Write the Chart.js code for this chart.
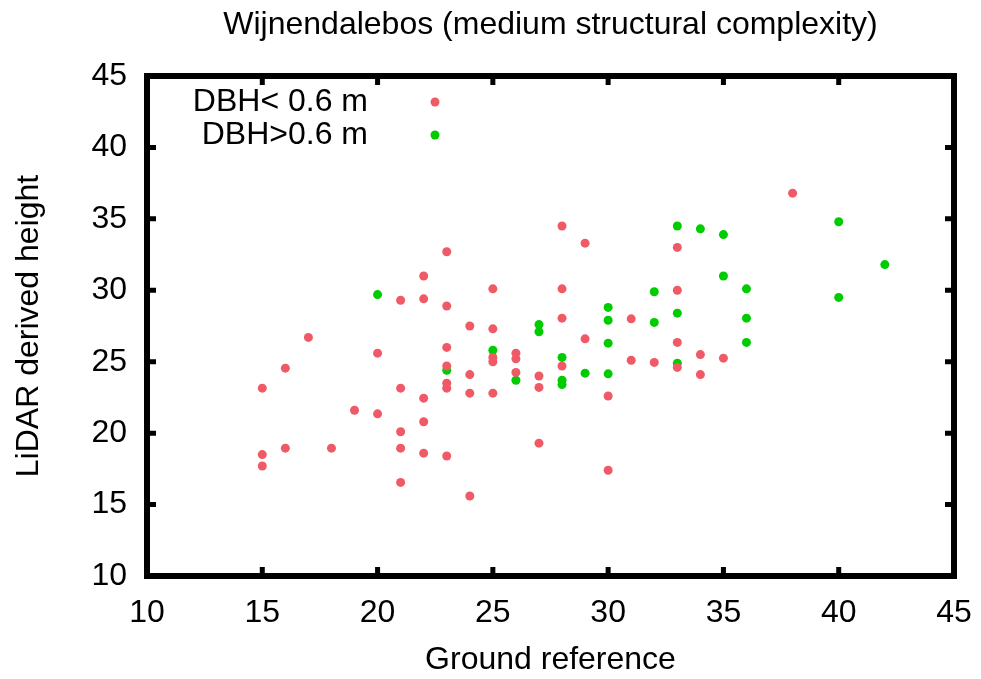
<!DOCTYPE html>
<html>
<head>
<meta charset="utf-8">
<title>Wijnendalebos</title>
<script src="https://cdn.jsdelivr.net/npm/chart.js@4.4.0/dist/chart.umd.min.js"></script>
<style>
  html, body { margin: 0; padding: 0; background: #fff; }
  canvas { display: block; }
</style>
</head>
<body>
<canvas id="chart" width="981" height="679"></canvas>
<script>
const chartTitle = "Wijnendalebos (medium structural complexity)";
const xTitle = "Ground reference";
const yTitle = "LiDAR derived height";
const seriesNames = ["DBH< 0.6 m", "DBH>0.6 m"];
const seriesColors = ["#ef5a66", "#00cc00"];
const xTicks = [10, 15, 20, 25, 30, 35, 40, 45];
const yTicks = [10, 15, 20, 25, 30, 35, 40, 45];

// DBH < 0.6 m : ground reference vs LiDAR height
const smallX = [15, 15, 15, 16, 16, 17, 18, 19, 20, 20,
  21, 21, 21, 21, 21, 22, 22, 22, 22, 22,
  23, 23, 23, 23, 23, 23, 23, 24, 24, 24, 24,
  25, 25, 25, 25, 25, 26, 26, 26, 27, 27, 27,
  28, 28, 28, 28, 29, 29, 30, 30, 31, 31, 32,
  33, 33, 33, 33, 34, 34, 35, 38];
const smallY = [23.15, 18.5, 17.7, 24.55, 18.95, 26.7, 18.95, 21.6, 25.6, 21.35,
  29.3, 23.15, 20.1, 18.95, 16.55, 31.0, 29.4, 22.45, 20.8, 18.6,
  32.7, 28.9, 26.0, 24.7, 23.5, 23.15, 18.4, 27.5, 24.1, 22.8, 15.6,
  30.1, 27.3, 25.3, 25.0, 22.8, 25.6, 25.2, 24.25, 24.0, 23.2, 19.3,
  34.5, 30.1, 28.05, 24.7, 33.3, 26.6, 22.6, 17.4, 28.0, 25.1, 24.95,
  33.0, 30.0, 26.35, 24.6, 25.5, 24.1, 25.25, 36.8];

// DBH > 0.6 m
const largeX = [20, 23, 25, 26, 27, 27, 28, 28, 28, 29,
  30, 30, 30, 30, 32, 32, 33, 33, 33, 34,
  35, 35, 36, 36, 36, 40, 40, 42];
const largeY = [29.7, 24.4, 25.8, 23.7, 27.6, 27.1, 25.3, 23.7, 23.4, 24.2,
  28.8, 27.9, 26.3, 24.15, 29.9, 27.75, 34.5, 28.4, 24.9, 34.3,
  33.9, 31.0, 30.1, 28.05, 26.35, 34.8, 29.5, 31.8];

const FONT = "'Liberation Sans', Arial, Helvetica, sans-serif";

const toPoints = (xs, ys) => xs.map((x, i) => ({ x: x, y: ys[i] }));

// frame, inward ticks, title and the gnuplot style key
const gnuplotDecor = {
  id: "gnuplotDecor",
  afterDatasetsDraw(chart) {
    const { ctx, chartArea: a, scales } = chart;
    ctx.save();
    ctx.strokeStyle = "#000";
    ctx.lineWidth = 6;
    ctx.strokeRect(a.left, a.top, a.right - a.left, a.bottom - a.top);

    ctx.lineWidth = 5;
    ctx.beginPath();
    xTicks.forEach(v => {
      const px = scales.x.getPixelForValue(v);
      ctx.moveTo(px, a.bottom); ctx.lineTo(px, a.bottom - 9);
      ctx.moveTo(px, a.top); ctx.lineTo(px, a.top + 9);
    });
    yTicks.forEach(v => {
      const py = scales.y.getPixelForValue(v);
      ctx.moveTo(a.left, py); ctx.lineTo(a.left + 9, py);
      ctx.moveTo(a.right, py); ctx.lineTo(a.right - 9, py);
    });
    ctx.stroke();

    // title
    ctx.fillStyle = "#000";
    ctx.font = "32px " + FONT;
    ctx.textAlign = "center";
    ctx.textBaseline = "middle";
    ctx.fillText(chartTitle, (a.left + a.right) / 2, 25);

    // key
    ctx.textAlign = "right";
    chart.data.datasets.forEach((ds, i) => {
      const y = a.top + 26 + i * 33;
      ctx.fillStyle = "#000";
      ctx.fillText(ds.label, a.left + 221, y);
      ctx.fillStyle = ds.backgroundColor;
      ctx.beginPath();
      ctx.arc(a.left + 288, y, 4.5, 0, Math.PI * 2);
      ctx.fill();
    });
    ctx.restore();
  }
};

new Chart(document.getElementById("chart"), {
  type: "scatter",
  data: {
    datasets: [
      {
        label: seriesNames[0],
        data: toPoints(smallX, smallY),
        backgroundColor: seriesColors[0],
        borderWidth: 0,
        pointRadius: 4.5,
        pointHoverRadius: 4.5
      },
      {
        label: seriesNames[1],
        data: toPoints(largeX, largeY),
        backgroundColor: seriesColors[1],
        borderWidth: 0,
        pointRadius: 4.5,
        pointHoverRadius: 4.5
      }
    ]
  },
  options: {
    responsive: false,
    animation: false,
    layout: { padding: { top: 76, right: 27, bottom: 0, left: 0 } },
    plugins: {
      legend: { display: false },
      tooltip: { enabled: false },
      title: { display: false }
    },
    scales: {
      x: {
        type: "linear",
        min: 10,
        max: 45,
        afterFit: s => { s.height = 103; s.paddingLeft = 0; s.paddingRight = 0; },
        afterBuildTicks: s => { s.ticks = xTicks.map(v => ({ value: v })); },
        grid: { display: false, drawTicks: false },
        border: { display: false },
        ticks: { color: "#000", padding: 18, maxRotation: 0, font: { family: FONT, size: 32 } },
        title: { display: true, text: xTitle, color: "#000", padding: { top: 0, bottom: 0 }, font: { family: FONT, size: 32 } }
      },
      y: {
        type: "linear",
        min: 10,
        max: 45,
        afterFit: s => { s.width = 147; s.paddingTop = 0; s.paddingBottom = 0; },
        afterBuildTicks: s => { s.ticks = yTicks.map(v => ({ value: v })); },
        grid: { display: false, drawTicks: false },
        border: { display: false },
        ticks: { color: "#000", padding: 20, font: { family: FONT, size: 32 } },
        title: { display: true, text: yTitle, color: "#000", padding: { top: 10, bottom: 0 }, font: { family: FONT, size: 32 } }
      }
    }
  },
  plugins: [gnuplotDecor]
});
</script>
</body>
</html>
